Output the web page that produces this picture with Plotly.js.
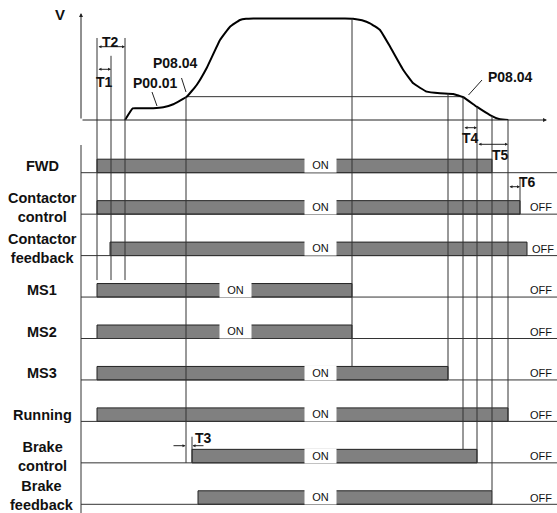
<!DOCTYPE html>
<html><head><meta charset="utf-8">
<script src="https://cdn.plot.ly/plotly-3.0.1.min.js"></script>
<style>html,body{margin:0;padding:0;background:#fff;}#chart{width:557px;height:513px;}</style>
</head><body><div id="chart"></div>
<script>
// ---------------- DATA ----------------
// Signal rows (top to bottom)
const signals = ['FWD','Contactor<br>control','Contactor<br>feedback','MS1','MS2','MS3','Running','Brake<br>control','Brake<br>feedback'];
const onTimes  = [97, 97, 110, 97, 97, 97, 97, 192, 198];
const offTimes = [492, 520, 527, 352, 352, 448, 508, 477, 492];
const onLabelTimes = [320, 320, 320, 235, 235, 320, 320, 320, 320];
const offLabelShown = [false, true, true, true, true, true, true, true, true];

// Speed curve (percent of maximum speed)
const speedTimes  = [125, 132.7, 140, 153.3, 163.3, 173.3, 186.7, 196.7, 206.7, 220, 230, 240, 246, 253.3, 270, 300, 330, 345, 353, 362, 370, 380, 390, 403.3, 413.3, 426.7, 440, 453.3, 463.3, 476.7, 490, 500, 508.3];
const speedValues = [0, 11.5, 11.5, 11.6, 12.5, 15.5, 22.9, 34.5, 51.2, 78.8, 91.9, 98.5, 99.7, 100, 100, 100, 100, 100, 99.8, 98.2, 95.3, 88.7, 72.4, 49.3, 36.1, 27.9, 26.3, 25.6, 22.4, 13.1, 4.9, 0.7, 0];

// P08.04 speed level line
const levelSpeed = 23;
const levelTimes = [186, 463];

// Vertical guide lines: time, top (row units, null = starts on speed curve), bottom (row units)
const guideTimes   = [97, 111, 125, 186, 352, 448, 463, 477, 492, 508, 520, 192];
const guideTops    = [-3.25, -2.82, -3.25, null, null, null, null, null, null, null, 0.13, 6.37];
const guideBottoms = [2.59, 2.59, 2.59, 7, 4.674, 5, 6.674, 7, 7.674, 6, 1, 7];

// Interval markers
const intervalNames = ['T1', 'T2', 'T4', 'T5', 'T6'];
const intervalStart = [97, 97, 463, 477, 508];
const intervalEnd   = [111, 125, 477, 508, 520];

// ---------------- GEOMETRY (layout) ----------------
const W = 557, H = 513;
const ROW0 = 172.7, ROWH = 41.45, BARH = 13.5 / 41.45;
const SPEED0 = 120, SPEEDK = 1.015;
const pxToRow = p => (p - ROW0) / ROWH;
const py = p => 1 - p / H;
const speedToRow = v => pxToRow(SPEED0 - SPEEDK * v);
function speedAt(t) {
  for (let i = 0; i < speedTimes.length - 1; i++) {
    if (t >= speedTimes[i] && t <= speedTimes[i + 1]) {
      const f = (t - speedTimes[i]) / (speedTimes[i + 1] - speedTimes[i]);
      return speedValues[i] + f * (speedValues[i + 1] - speedValues[i]);
    }
  }
  return 0;
}
const FONT = 'Arial, "Liberation Sans", sans-serif';
const rows = signals.map((_, i) => i);

// ---------------- TRACES ----------------
const traces = [];
traces.push({
  type: 'bar', orientation: 'h', xaxis: 'x', yaxis: 'y2',
  y: rows.map(i => i - BARH / 2), base: onTimes,
  x: onTimes.map((t, i) => offTimes[i] - t), width: BARH,
  marker: {color: '#808080', line: {color: '#222', width: 1}},
  hoverinfo: 'skip', showlegend: false
});
const blX = [], blY = [];
rows.forEach(i => { blX.push(81, 557, null); blY.push(i, i, null); });
traces.push({type: 'scatter', mode: 'lines', xaxis: 'x', yaxis: 'y2', x: blX, y: blY,
  line: {color: '#333', width: 1}, hoverinfo: 'skip', showlegend: false});
traces.push({type: 'scatter', mode: 'lines', xaxis: 'x', yaxis: 'y2', x: [81, 81], y: [pxToRow(145), pxToRow(513)],
  line: {color: '#333', width: 1}, hoverinfo: 'skip', showlegend: false});
const gX = [], gY = [];
guideTimes.forEach((t, i) => {
  const top = guideTops[i] === null ? speedToRow(speedAt(t)) : guideTops[i];
  gX.push(t, t, null); gY.push(top, guideBottoms[i], null);
});
traces.push({type: 'scatter', mode: 'lines', xaxis: 'x', yaxis: 'y2', x: gX, y: gY,
  line: {color: '#333', width: 1}, hoverinfo: 'skip', showlegend: false});
traces.push({type: 'scatter', mode: 'lines', xaxis: 'x', yaxis: 'y', x: levelTimes, y: [levelSpeed, levelSpeed],
  line: {color: '#333', width: 1}, hoverinfo: 'skip', showlegend: false});
traces.push({type: 'scatter', mode: 'lines', xaxis: 'x', yaxis: 'y', x: speedTimes, y: speedValues,
  line: {color: '#000', width: 2, shape: 'spline', smoothing: 0.3}, hoverinfo: 'skip', showlegend: false});

// ---------------- ANNOTATIONS ----------------
const ann = [];
signals.forEach((s, i) => {
  const lift = (i === 8) ? 2.5 / ROWH : 0;
  ann.push({xref: 'x', yref: 'y2', x: 42, y: i - BARH / 2 - lift, text: '<b>' + s + '</b>', showarrow: false,
    font: {family: FONT, size: 14.5, color: '#111'}, xanchor: 'center', yanchor: 'middle'});
  ann.push({xref: 'x', yref: 'y2', x: onLabelTimes[i], y: i - 7.3 / ROWH, text: 'ON', showarrow: false,
    font: {family: FONT, size: 11, color: '#111'}, bgcolor: '#fff', width: 31, height: 14, borderpad: 0,
    xanchor: 'center', yanchor: 'middle'});
  if (offLabelShown[i]) {
    ann.push({xref: 'x', yref: 'y2', x: i === 2 ? 543 : 541, y: i - BARH / 2, text: 'OFF', showarrow: false,
      font: {family: FONT, size: 11, color: '#111'}, xanchor: 'center', yanchor: 'middle'});
  }
});
const arrowY = {T1: 69.3, T2: 46.7, T4: 127.7, T5: 144.3, T6: 186.7};
const labelPos = {T1: [104, 82], T2: [110, 42], T4: [470, 138], T5: [500, 155], T6: [527, 182]};
intervalNames.forEach((n, i) => {
  ann.push({xref: 'x', yref: 'paper', x: intervalEnd[i], y: py(arrowY[n]), text: '', showarrow: true,
    ax: intervalStart[i] - intervalEnd[i], ay: 0, arrowside: 'end+start', arrowhead: 2, arrowsize: 0.6,
    arrowwidth: 1, arrowcolor: '#222', standoff: 0, startstandoff: 0});
  ann.push({xref: 'x', yref: 'paper', x: labelPos[n][0], y: py(labelPos[n][1]), text: '<b>' + n + '</b>', showarrow: false,
    font: {family: FONT, size: 14, color: '#111'}, xanchor: 'center', yanchor: 'middle'});
});
// T3
ann.push({xref: 'x', yref: 'paper', x: 185.5, y: py(445.7), text: '', showarrow: true, ax: -13.5, ay: 0,
  arrowhead: 2, arrowsize: 0.6, arrowwidth: 1, arrowcolor: '#222', standoff: 0});
ann.push({xref: 'x', yref: 'paper', x: 192.5, y: py(445.7), text: '', showarrow: true, ax: 12.5, ay: 0,
  arrowhead: 2, arrowsize: 0.6, arrowwidth: 1, arrowcolor: '#222', standoff: 0});
ann.push({xref: 'x', yref: 'paper', x: 203, y: py(438), text: '<b>T3</b>', showarrow: false,
  font: {family: FONT, size: 14, color: '#111'}, xanchor: 'center', yanchor: 'middle'});
// P labels
[['P00.01', 155, 83], ['P08.04', 175.5, 63], ['P08.04', 510, 77]].forEach(p => {
  ann.push({xref: 'x', yref: 'paper', x: p[1], y: py(p[2]), text: '<b>' + p[0] + '</b>', showarrow: false,
    font: {family: FONT, size: 14, color: '#111'}, xanchor: 'center', yanchor: 'middle'});
});
// V axis label and axes arrows
ann.push({xref: 'x', yref: 'paper', x: 60, y: py(14), text: '<b>V</b>', showarrow: false,
  font: {family: FONT, size: 15, color: '#111'}, xanchor: 'center', yanchor: 'middle'});
ann.push({xref: 'x', yref: 'paper', x: 81, y: py(13), text: '', showarrow: true, ax: 0, ay: 107,
  arrowhead: 2, arrowsize: 0.8, arrowwidth: 1, arrowcolor: '#222', standoff: 0});
ann.push({xref: 'x', yref: 'paper', x: 547, y: py(120), text: '', showarrow: true, ax: -466, ay: 0,
  arrowhead: 2, arrowsize: 0.8, arrowwidth: 1, arrowcolor: '#222', standoff: 0});

// Leader lines
const shapes = [[152, 92, 157, 106], [181.5, 78, 186, 92], [482, 80, 468.5, 95]].map(l => ({
  type: 'line', xref: 'x', yref: 'paper', x0: l[0], y0: py(l[1]), x1: l[2], y1: py(l[3]),
  line: {color: '#222', width: 1}
}));

const layout = {
  width: W, height: H, margin: {l: 0, r: 0, t: 0, b: 0, pad: 0},
  paper_bgcolor: '#fff', plot_bgcolor: 'rgba(0,0,0,0)', showlegend: false,
  xaxis: {range: [0, W], visible: false, fixedrange: true},
  yaxis: {domain: [1 - 120 / H, 1 - 13 / H], range: [0, 107 / SPEEDK], visible: false, fixedrange: true},
  yaxis2: {domain: [0, 1], range: [pxToRow(H), pxToRow(0)], visible: false, fixedrange: true, anchor: 'x'},
  annotations: ann, shapes: shapes
};
Plotly.newPlot('chart', traces, layout, {staticPlot: true, displayModeBar: false});
</script>
</body></html>
